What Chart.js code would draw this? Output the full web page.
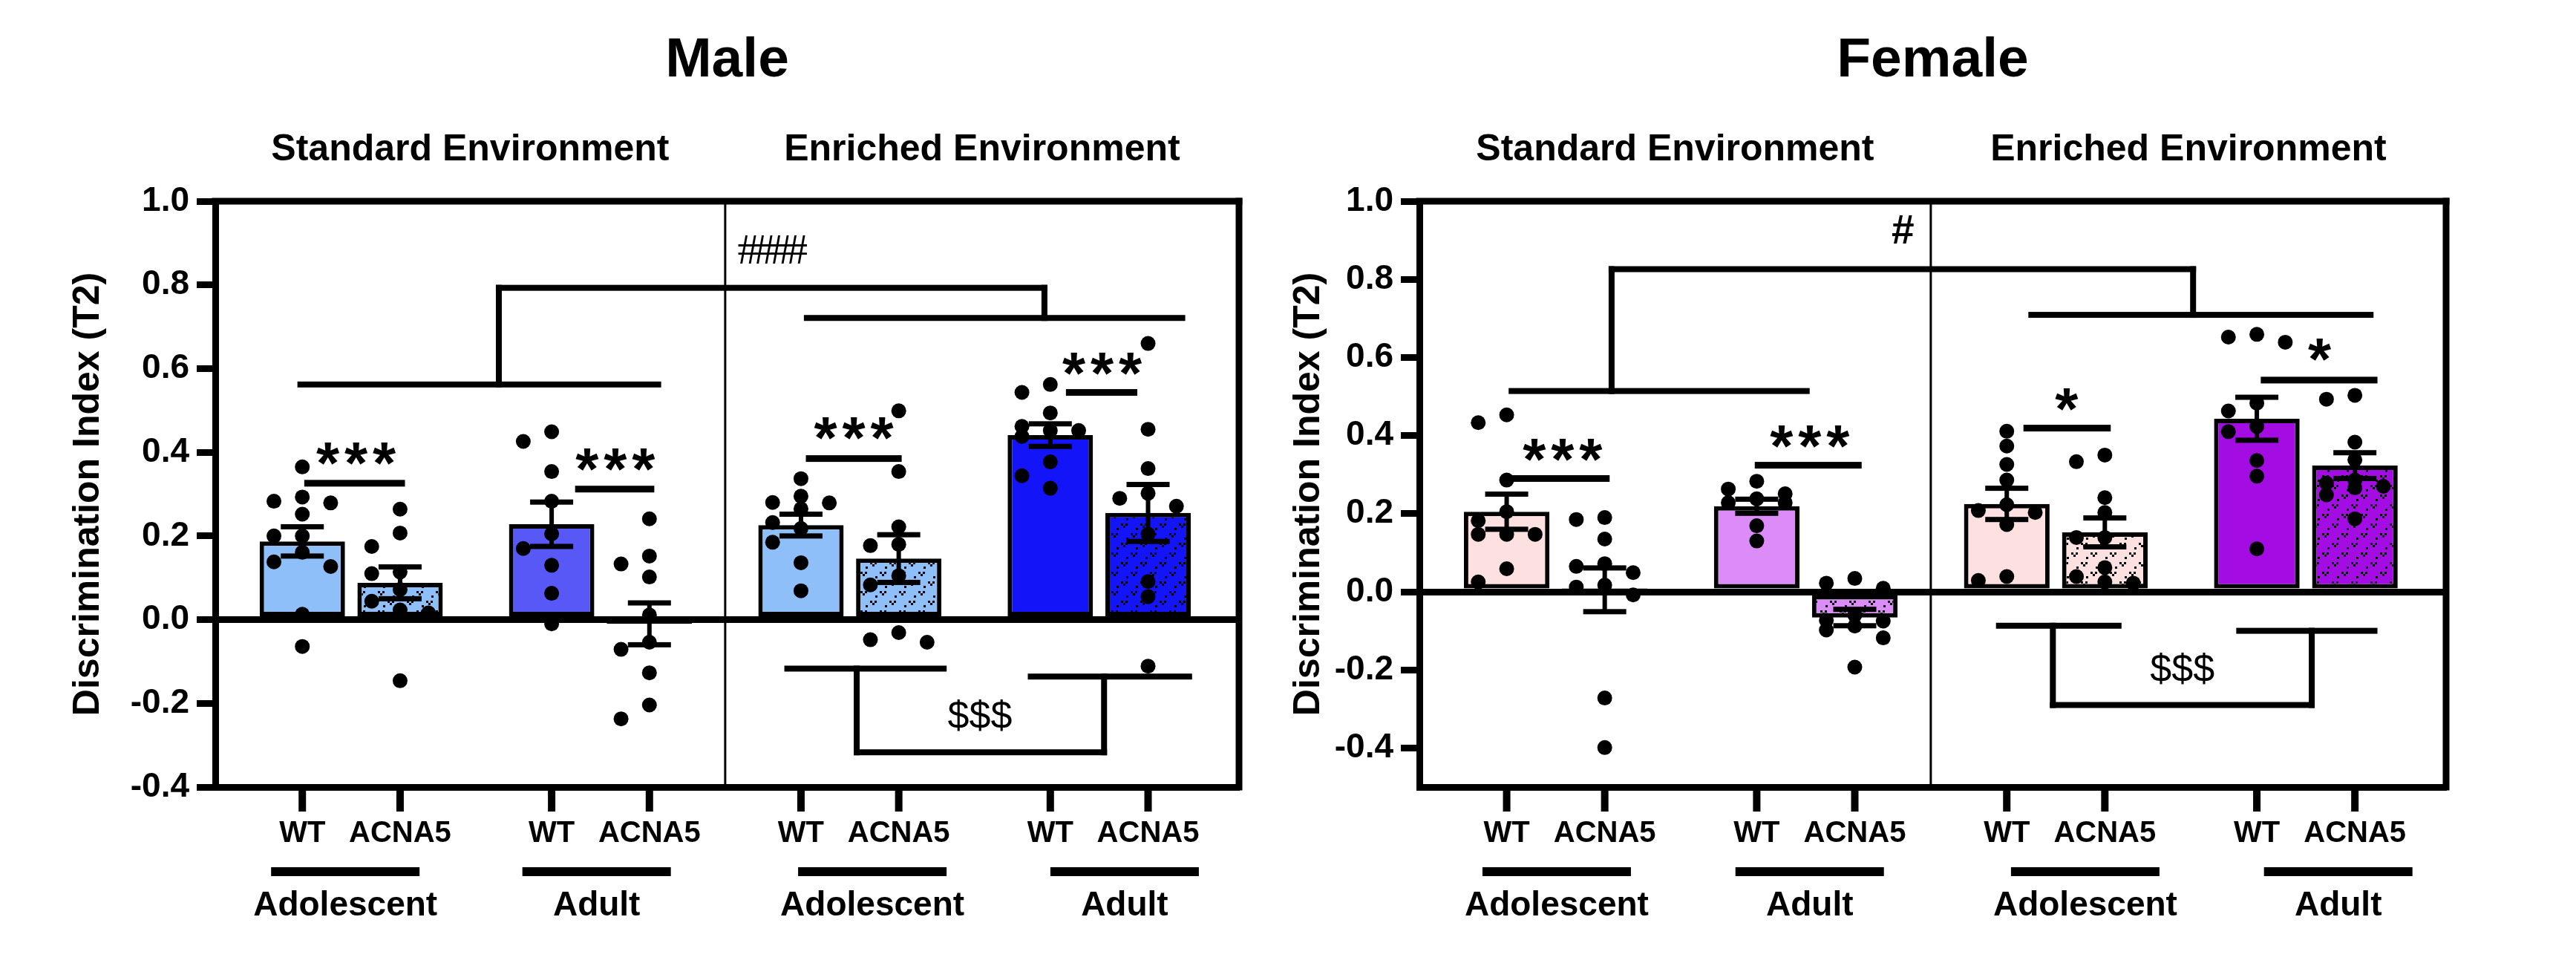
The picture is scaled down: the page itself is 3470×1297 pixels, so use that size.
<!DOCTYPE html>
<html>
<head>
<meta charset="utf-8">
<script src="https://cdn.jsdelivr.net/npm/chart.js@4.4.1/dist/chart.umd.min.js"></script>
<style>
  html, body { margin: 0; padding: 0; background: #fff; }
  #wrap { position: relative; width: 3470px; height: 1297px; }
  canvas { position: absolute; top: 0; }
</style>
</head>
<body>
<div id="wrap">
  <canvas id="male" width="1735" height="1297" style="left:0"></canvas>
  <canvas id="female" width="1735" height="1297" style="left:1735px"></canvas>
</div>
<script>
// values
var memberLabels = ['WT', 'ACNA5'];
var ageLabels = ['Adolescent', 'Adult', 'Adolescent', 'Adult'];
var envLabels = ['Standard Environment', 'Enriched Environment'];
var yTicks = [-0.4, -0.2, 0, 0.2, 0.4, 0.6, 0.8, 1.0];

var maleMeans = [0.187, 0.088, 0.228, -0.010, 0.226, 0.146, 0.441, 0.255];
var maleSem = [0.035, 0.038, 0.053, 0.050, 0.026, 0.057, 0.027, 0.068];
var malePoints = [
  [0.365, 0.293, 0.283, 0.279, 0.252, 0.20, 0.20, 0.161, 0.138, 0.127, 0.013, -0.064],
  [0.264, 0.207, 0.175, 0.114, 0.110, 0.072, 0.044, 0.023, 0.016, -0.146],
  [0.449, 0.426, 0.354, 0.283, 0.205, 0.170, 0.130, 0.063, -0.010],
  [0.241, 0.152, 0.133, 0.102, 0.011, -0.054, -0.071, -0.127, -0.204, -0.237],
  [0.337, 0.295, 0.280, 0.279, 0.265, 0.232, 0.218, 0.185, 0.136, 0.069],
  [0.499, 0.354, 0.222, 0.180, 0.177, 0.105, 0.083, -0.031, -0.048, -0.054],
  [0.562, 0.543, 0.494, 0.462, 0.452, 0.452, 0.438, 0.377, 0.344, 0.314],
  [0.660, 0.455, 0.361, 0.302, 0.290, 0.271, 0.204, 0.091, 0.055, -0.111]
];

var femaleMeans = [0.205, 0.005, 0.219, -0.066, 0.225, 0.152, 0.443, 0.323];
var femaleSem = [0.045, 0.056, 0.018, 0.021, 0.040, 0.037, 0.055, 0.033];
var femalePoints = [
  [0.453, 0.433, 0.286, 0.205, 0.182, 0.147, 0.147, 0.147, 0.059, 0.025],
  [0.190, 0.185, 0.135, 0.072, 0.065, 0.049, 0.017, 0.012, -0.008, -0.272, -0.399],
  [0.283, 0.263, 0.251, 0.238, 0.228, 0.228, 0.169, 0.130],
  [0.034, 0.022, 0.009, -0.060, -0.073, -0.075, -0.088, -0.098, -0.118, -0.193],
  [0.411, 0.373, 0.326, 0.286, 0.223, 0.208, 0.203, 0.172, 0.039, 0.029],
  [0.350, 0.333, 0.241, 0.203, 0.139, 0.139, 0.062, 0.039, 0.025, 0.022],
  [0.659, 0.652, 0.639, 0.483, 0.463, 0.423, 0.410, 0.336, 0.296, 0.110],
  [0.503, 0.493, 0.383, 0.338, 0.286, 0.278, 0.270, 0.266, 0.248, 0.187]
];

// significance marks, in axis units (bar 0 sits at x = 0)
var maleStars = [
  { x0: 0.02, x1: 1.05, y: 0.326, tx: 0.55, ty: 0.396, text: '***' },
  { x0: 2.79, x1: 3.60, y: 0.312, tx: 3.20, ty: 0.382, text: '***' },
  { x0: 5.15, x1: 6.13, y: 0.385, tx: 5.64, ty: 0.457, text: '***' },
  { x0: 7.81, x1: 8.54, y: 0.543, tx: 8.18, ty: 0.612, text: '***' }
];
var femaleStars = [
  { x0: 0.03, x1: 1.05, y: 0.290, tx: 0.57, ty: 0.363, text: '***' },
  { x0: 2.53, x1: 3.62, y: 0.324, tx: 3.09, ty: 0.398, text: '***' },
  { x0: 5.27, x1: 6.16, y: 0.419, tx: 5.71, ty: 0.493, text: '*' },
  { x0: 7.69, x1: 8.88, y: 0.542, tx: 8.29, ty: 0.619, text: '*' }
];
var maleBrackets = [
  { a: [-0.05, 3.67, 0.562], b: [5.13, 9.03, 0.721], join: [2.01, 7.59, 0.793], tx: 4.81, ty: 0.884, text: '####', serif: true },
  { a: [4.93, 6.59, -0.117], b: [7.42, 9.10, -0.136], join: [5.67, 8.20, -0.317], tx: 6.93, ty: -0.228, text: '$$$' }
];
var femaleBrackets = [
  { a: [0.02, 3.09, 0.514], b: [5.32, 8.84, 0.709], join: [1.07, 7.00, 0.826], tx: 4.04, ty: 0.927, text: '#', bold: true },
  { a: [4.99, 6.27, -0.087], b: [7.44, 8.88, -0.100], join: [5.57, 8.21, -0.290], tx: 6.89, ty: -0.196, text: '$$$' }
];
var maleAgeX = [0.44, 3.01, 5.83, 8.41];
var femaleAgeX = [0.51, 3.09, 5.90, 8.48];

var maleColors = ['#8fbff9', '#8fbff9', '#5858f6', '#5858f6', '#8fbff9', '#8fbff9', '#1414f8', '#1414f8'];
var femaleColors = ['#fde0e0', '#fde0e0', '#dc8cf6', '#dc8cf6', '#fde0e0', '#fde0e0', '#a30ce2', '#a30ce2'];

var FONT = "'Liberation Sans', Arial, sans-serif";
var PAIR_STEP = 2.55;
var X_MIN = -0.89;
var X_MAX = 9.58;
var DOT_STEP = 0.29;
var DOT_GAP = 0.036;

Chart.defaults.font.family = FONT;
Chart.defaults.color = '#000';

function barX(i) {
  return Math.floor(i / 2) * PAIR_STEP + (i % 2);
}

// small 'v' dot pattern used for the ACNA5 bars
function makePattern(color) {
  var c = document.createElement('canvas');
  c.width = 26;
  c.height = 26;
  var g = c.getContext('2d');
  g.fillStyle = color;
  g.fillRect(0, 0, 26, 26);
  g.fillStyle = '#000';
  [[2, 3], [15, 16]].forEach(function (p) {
    g.fillRect(p[0], p[1], 3, 3);
    g.fillRect(p[0] + 6, p[1], 3, 3);
    g.fillRect(p[0] + 3, p[1] + 3, 3, 3);
  });
  g.fillRect(22, 9, 3, 3);
  g.fillRect(9, 22, 3, 3);
  return g.createPattern(c, 'repeat');
}

// spread the dots of one group over three columns, like the scatter in the figure
function spread(values, center) {
  var cols = [0, -1, 1];
  var placed = [];
  var out = [];
  var order = values.map(function (v, i) { return i; });
  order.sort(function (a, b) { return values[b] - values[a]; });
  order.forEach(function (i) {
    var v = values[i];
    var best = 0;
    var bestDist = -1;
    for (var k = 0; k < cols.length; k++) {
      var d = Infinity;
      placed.forEach(function (p) {
        if (p.col === cols[k]) d = Math.min(d, Math.abs(p.v - v));
      });
      if (d >= DOT_GAP) { best = cols[k]; bestDist = d; break; }
      if (d > bestDist) { best = cols[k]; bestDist = d; }
    }
    placed.push({ v: v, col: best });
    out.push({ x: center + best * DOT_STEP, y: v });
  });
  return out;
}

// draw text centred on its ink, optionally one char at a time
function inkText(ctx, text, x, y, font, spacing) {
  ctx.font = font;
  ctx.textAlign = 'center';
  ctx.textBaseline = 'alphabetic';
  var parts = spacing ? text.split('') : [text];
  var n = parts.length;
  parts.forEach(function (ch, k) {
    var m = ctx.measureText(ch);
    var cx = x + (k - (n - 1) / 2) * (spacing || 0);
    ctx.fillText(ch, cx, y + (m.actualBoundingBoxAscent - m.actualBoundingBoxDescent) / 2);
  });
}

function hLine(ctx, x0, x1, y, w) {
  ctx.fillRect(x0, y - w / 2, x1 - x0, w);
}

function vLine(ctx, x, y0, y1, w) {
  ctx.fillRect(x - w / 2, Math.min(y0, y1) - w / 2, w, Math.abs(y1 - y0) + w);
}

function makeChart(id, cfg) {
  var positions = cfg.means.map(function (m, i) { return barX(i); });
  var fills = cfg.colors.map(function (c, i) { return i % 2 ? makePattern(c) : c; });
  var dots = [];
  cfg.points.forEach(function (vals, i) {
    dots = dots.concat(spread(vals, positions[i]));
  });

  var decorations = {
    id: 'decorations',
    afterDatasetDraw: function (chart, args) {
      if (args.index !== 1) return;
      var ctx = chart.ctx;
      var xs = chart.scales.x;
      var ys = chart.scales.y;
      ctx.save();
      ctx.fillStyle = '#000';
      cfg.means.forEach(function (m, i) {
        var px = xs.getPixelForValue(positions[i]);
        var top = ys.getPixelForValue(m + cfg.sem[i]);
        var bot = ys.getPixelForValue(m - cfg.sem[i]);
        ctx.fillRect(px - 3, top, 6, bot - top);
        ctx.fillRect(px - 29, top - 3.5, 58, 7);
        ctx.fillRect(px - 29, bot - 3.5, 58, 7);
      });
      ctx.restore();
    },
    afterDraw: function (chart) {
      var ctx = chart.ctx;
      var a = chart.chartArea;
      var xs = chart.scales.x;
      var ys = chart.scales.y;
      var X = function (v) { return xs.getPixelForValue(v); };
      var Y = function (v) { return ys.getPixelForValue(v); };
      ctx.save();
      ctx.fillStyle = '#000';

      // top and right edges of the frame
      hLine(ctx, a.left - 4.5, a.right + 4.5, a.top, 9);
      vLine(ctx, a.right, a.top, a.bottom, 9);

      // divider between the two environments
      var div = X((positions[3] + positions[4]) / 2);
      ctx.fillRect(div - 1.5, a.top, 3, a.bottom - a.top);

      // titles
      inkText(ctx, cfg.title, (a.left + a.right) / 2, 76, 'bold 75px ' + FONT);
      inkText(ctx, envLabels[0], (a.left + div) / 2, 198, 'bold 50px ' + FONT);
      inkText(ctx, envLabels[1], (div + a.right) / 2, 198, 'bold 50px ' + FONT);

      // age groups under the axis
      cfg.ageX.forEach(function (u, k) {
        var c = X(u);
        hLine(ctx, c - 100, c + 100, 1174, 12);
        inkText(ctx, ageLabels[k], c, 1216, 'bold 46px ' + FONT);
      });

      // pairwise stars
      cfg.stars.forEach(function (s) {
        hLine(ctx, X(s.x0), X(s.x1), Y(s.y), 9);
        inkText(ctx, s.text, X(s.tx), Y(s.ty), 'bold 80px ' + FONT, 38);
      });

      // interaction brackets
      cfg.brackets.forEach(function (b) {
        hLine(ctx, X(b.a[0]), X(b.a[1]), Y(b.a[2]), 8);
        hLine(ctx, X(b.b[0]), X(b.b[1]), Y(b.b[2]), 8);
        vLine(ctx, X(b.join[0]), Y(b.a[2]), Y(b.join[2]), 8);
        vLine(ctx, X(b.join[1]), Y(b.b[2]), Y(b.join[2]), 8);
        hLine(ctx, X(b.join[0]) - 4, X(b.join[1]) + 4, Y(b.join[2]), 8);
        var font = b.serif ? "57px 'Liberation Serif', serif" : (b.bold ? 'bold 55px ' + FONT : '52px ' + FONT);
        inkText(ctx, b.text, X(b.tx), Y(b.ty), font, b.serif ? 22 : (b.text.length > 1 ? 29 : 0));
      });

      // tick marks under each bar, from the x scale's ticks
      ctx.fillStyle = '#000';
      xs.ticks.forEach(function (t, i) {
        ctx.fillRect(xs.getPixelForTick(i) - 5, a.bottom, 10, 33);
      });
      ctx.restore();
    }
  };

  return new Chart(document.getElementById(id), {
    type: 'bar',
    data: {
      datasets: [
        {
          type: 'scatter',
          data: dots,
          pointRadius: 10,
          pointHoverRadius: 10,
          pointBackgroundColor: '#000',
          pointBorderWidth: 0,
          order: 1
        },
        {
          type: 'bar',
          data: cfg.means.map(function (m, i) { return { x: positions[i], y: m }; }),
          backgroundColor: fills,
          borderColor: '#000',
          borderWidth: 6,
          borderSkipped: false,
          barPercentage: 0.873,
          categoryPercentage: 1,
          order: 2
        }
      ]
    },
    options: {
      responsive: false,
      animation: false,
      devicePixelRatio: 1,
      events: [],
      layout: { padding: cfg.padding },
      plugins: { legend: { display: false }, tooltip: { enabled: false } },
      scales: {
        x: {
          type: 'linear',
          min: X_MIN,
          max: X_MAX,
          offset: false,
          afterBuildTicks: function (axis) {
            axis.ticks = positions.map(function (v) { return { value: v }; });
          },
          afterFit: function (axis) { axis.height = 237; },
          grid: { offset: false, drawOnChartArea: false, drawTicks: true, tickLength: 30, tickWidth: 9, tickColor: '#000' },
          border: { display: true, color: '#000', width: 9 },
          ticks: {
            autoSkip: false,
            maxRotation: 0,
            padding: 9,
            color: '#000',
            font: { size: 40, weight: 'bold' },
            callback: function (v, i) { return memberLabels[i % 2]; }
          }
        },
        y: {
          min: cfg.yMin,
          max: 1.0,
          afterBuildTicks: function (axis) {
            axis.ticks = yTicks.map(function (v) { return { value: v }; });
          },
          afterFit: function (axis) { axis.width = cfg.axisWidth; },
          grid: {
            color: function (c) { return c.tick && c.tick.value === 0 ? '#000' : 'rgba(0,0,0,0)'; },
            lineWidth: 9,
            drawTicks: true,
            tickLength: 25,
            tickWidth: 9,
            tickColor: '#000'
          },
          border: { display: true, color: '#000', width: 9 },
          ticks: {
            padding: 10,
            color: '#000',
            font: { size: 46, weight: 'bold' },
            callback: function (v) { return Number(v).toFixed(1); }
          },
          title: {
            display: true,
            text: 'Discrimination Index (T2)',
            color: '#000',
            padding: 0,
            font: { size: 50, weight: 'bold', lineHeight: 1 }
          }
        }
      }
    },
    plugins: [decorations]
  });
}

makeChart('male', {
  title: 'Male',
  means: maleMeans,
  sem: maleSem,
  points: malePoints,
  colors: maleColors,
  stars: maleStars,
  brackets: maleBrackets,
  ageX: maleAgeX,
  yMin: -0.4,
  axisWidth: 196,
  padding: { left: 94, right: 66, top: 271, bottom: 0 }
});

makeChart('female', {
  title: 'Female',
  means: femaleMeans,
  sem: femaleSem,
  points: femalePoints,
  colors: femaleColors,
  stars: femaleStars,
  brackets: femaleBrackets,
  ageX: femaleAgeX,
  yMin: -0.5,
  axisWidth: 174,
  padding: { left: 3, right: 175, top: 271, bottom: 0 }
});
</script>
</body>
</html>
